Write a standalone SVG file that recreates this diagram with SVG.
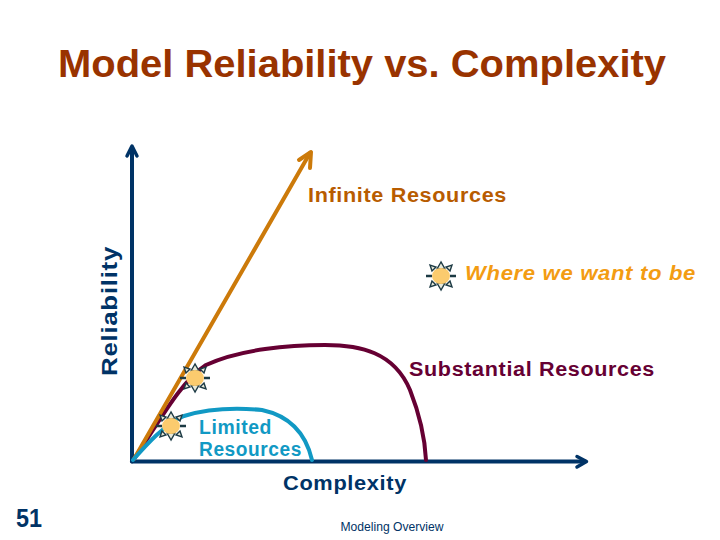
<svg xmlns="http://www.w3.org/2000/svg" width="720" height="540" viewBox="0 0 720 540">
<style>
text{font-family:"Liberation Sans",Arial,sans-serif}
.b{font-weight:bold;font-size:20px;letter-spacing:.6px}
.c{fill:none;stroke-linecap:round;stroke-linejoin:round}
.ax{stroke:#003366;stroke-width:4}
</style>
<defs>
<g id="sun">
<g stroke="#1c3a44" stroke-width="1.4" fill="#e8e8d8">
<path d="M0-14 L-4-7 L4-7Z"/><path d="M0 14 L-4 7 L4 7Z"/>
<path d="M-15 0 H-9M15 0 H9" stroke-width="2.4"/>
<path d="M-11-11 L-9-5 L-5-9Z"/><path d="M11-11 L9-5 L5-9Z"/><path d="M-11 11 L-9 5 L-5 9Z"/><path d="M11 11 L9 5 L5 9Z"/>
</g>
<ellipse rx="9" ry="8" fill="#fbcb6e"/>
</g>
</defs>
<rect width="720" height="540" fill="#fff"/>
<text x="362" y="77" text-anchor="middle" font-size="38" font-weight="bold" fill="#993300" textLength="608" lengthAdjust="spacingAndGlyphs">Model Reliability vs. Complexity</text>
<g id="connectors">
<path class="c ax" d="M132 461.500V148"/>
<path class="c" stroke="#003366" stroke-width="3.500" d="M127 156L132 146L137 156"/>
<path class="c ax" d="M132 461.500H585"/>
<path class="c" stroke="#003366" stroke-width="3.500" d="M577 456.500L586.500 461.500L577 467"/>
<path class="c" stroke="#660033" stroke-width="4" d="M134 459C158 424 180 382 206 365C240 349 290 345 325 345C360 345 394 352 410 390C421 418 425 440 426 460"/>
<path class="c" stroke="#cc7a0a" stroke-width="4" d="M134 459L310 153"/>
<path class="c" stroke="#cc7a0a" stroke-width="4" d="M299 160L311 152L310 168"/>
<path class="c" stroke="#1199c4" stroke-width="4" d="M133 460C147 444 165 424 184 416C210 408 240 408 262 410C290 416 306 434 312 460"/>
</g>
<g id="sun-top"><use href="#sun" x="441" y="276"/></g>
<g id="sun-mid"><use href="#sun" x="195" y="378"/></g>
<g id="sun-low"><use href="#sun" x="171" y="426"/></g>
<g id="label-infinite"><text class="b" x="308" y="202" fill="#b85c00" textLength="199" lengthAdjust="spacingAndGlyphs">Infinite Resources</text></g>
<g id="label-where"><text class="b" x="465" y="280" fill="#f39c12" font-style="italic" textLength="231" lengthAdjust="spacingAndGlyphs">Where we want to be</text></g>
<g id="label-substantial"><text class="b" x="409" y="376" fill="#660033" textLength="246" lengthAdjust="spacingAndGlyphs">Substantial Resources</text></g>
<g id="label-limited"><text class="b" x="199" y="434" fill="#1199c4" textLength="73" lengthAdjust="spacingAndGlyphs">Limited</text><text class="b" x="199" y="456" fill="#1199c4" textLength="103" lengthAdjust="spacingAndGlyphs">Resources</text></g>
<g id="label-complexity"><text class="b" x="283" y="490" fill="#003366" textLength="124" lengthAdjust="spacingAndGlyphs">Complexity</text></g>
<g id="label-reliability"><text class="b" style="font-size:22px" transform="translate(117 376) rotate(-90)" fill="#003366" textLength="130" lengthAdjust="spacingAndGlyphs">Reliability</text></g>
<text x="16" y="527" font-size="25" font-weight="bold" fill="#003366" textLength="26" lengthAdjust="spacingAndGlyphs">51</text>
<text x="392" y="531" font-size="12" text-anchor="middle" fill="#003366" textLength="103" lengthAdjust="spacingAndGlyphs">Modeling Overview</text>
</svg>
